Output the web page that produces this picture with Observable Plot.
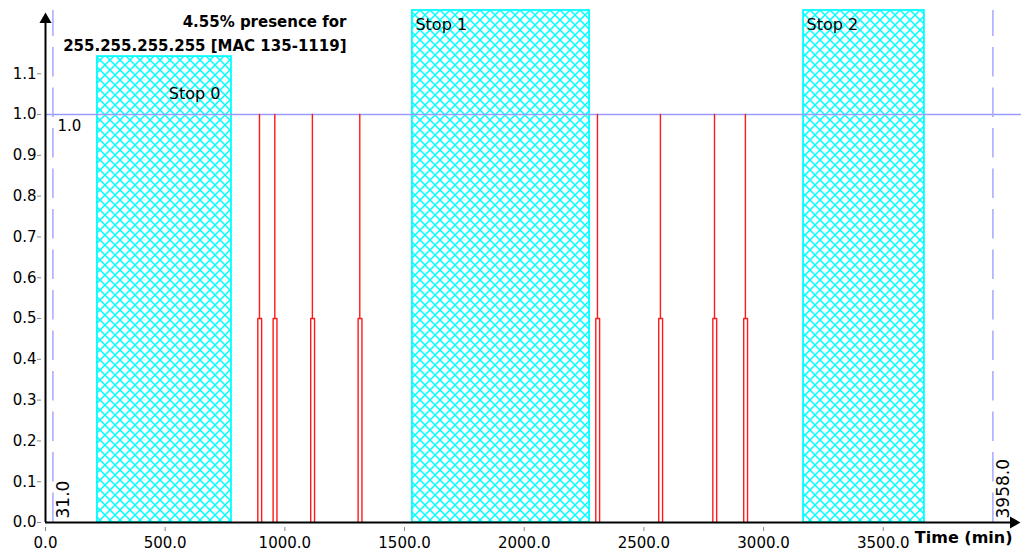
<!DOCTYPE html>
<html>
<head>
<meta charset="utf-8">
<script src="https://cdn.jsdelivr.net/npm/d3@7"></script>
<script src="https://cdn.jsdelivr.net/npm/@observablehq/plot@0.6"></script>
<style>
  html, body { margin: 0; padding: 0; background: #ffffff; }
  #chart { width: 1021px; height: 555px; }
</style>
</head>
<body>
<div id="chart"></div>
<script>
// Stops (minutes) drawn as hatched bands
const stopNames = ["Stop 0", "Stop 1", "Stop 2"];
const stopStart = [217, 1533, 3167];
const stopEnd   = [777, 2273, 3672];
const stopTop   = [1.142, 1.255, 1.255];

// Presence pulses (minutes): rise to 0.5, peak to 1.0, fall back
const spikeStart = [887, 951, 1108, 1306, 2299, 2562, 2788, 2917];
const spikePeak  = [894, 958, 1115, 1313, 2306, 2569, 2795, 2924];
const spikeEnd   = [903, 967, 1124, 1322, 2315, 2578, 2804, 2933];
const halfLevel = 0.5;
const fullLevel = 1.0;

// Observation window bounds (minutes)
const sessionBounds = [31.0, 3958.0];

const titleLines = ["4.55% presence for", "255.255.255.255 [MAC 135-1119]"];
const xLabel = "Time (min)";
const xTicks = [0, 500, 1000, 1500, 2000, 2500, 3000, 3500];
const yTicks = [0.0, 0.1, 0.2, 0.3, 0.4, 0.5, 0.6, 0.7, 0.8, 0.9, 1.0, 1.1];
const xMax = 4065;
const yMax = 1.255;

const stops = stopNames.map((name, i) => ({name, start: stopStart[i], end: stopEnd[i], top: stopTop[i]}));

const pulsePoints = spikePeak.flatMap((p, i) => {
  const s = spikeStart[i], e = spikeEnd[i];
  return [
    {t: s, v: 0, id: i}, {t: s, v: halfLevel, id: i},
    {t: p, v: halfLevel, id: i}, {t: p, v: fullLevel, id: i},
    {t: p, v: halfLevel, id: i}, {t: e, v: halfLevel, id: i},
    {t: e, v: 0, id: i}
  ];
});

const fmt1 = d => d.toFixed(1);

const svg = Plot.plot({
  width: 1021,
  height: 555,
  marginLeft: 45,
  marginRight: 3,
  marginTop: 10,
  marginBottom: 33,
  x: {domain: [0, xMax]},
  y: {domain: [0, yMax]},
  style: {fontFamily: "'DejaVu Sans', sans-serif", fontSize: "15px", color: "#000", background: "#fff"},
  marks: [
    // hatched stop bands
    Plot.rect(stops, {x1: "start", x2: "end", y1: 0, y2: "top", fill: "url(#hatch)", stroke: "#00ffff", strokeWidth: 1.8}),
    Plot.text(stops.filter(d => d.top >= yMax), {x: "start", y: "top", text: "name", textAnchor: "start", dx: 3, dy: 14, fontSize: 16, fill: "#000"}),
    Plot.text(stops.filter(d => d.top < yMax), {x: "end", y: "top", text: "name", textAnchor: "end", dx: -11, dy: 37, fontSize: 16, fill: "#000"}),

    // full presence reference
    Plot.ruleY([fullLevel], {stroke: "#9a9aff", strokeWidth: 1.4, insetRight: -3}),

    // window bounds
    Plot.ruleX(sessionBounds, {y1: 0, y2: yMax, stroke: "#a8a8ff", strokeWidth: 1.5, strokeDasharray: "29.5,11"}),
    Plot.text(sessionBounds, {x: d => d, y: 0, text: fmt1, rotate: -90, textAnchor: "start", dx: 11, dy: -4, fontSize: 17, fill: "#000"}),
    Plot.text([fullLevel], {x: sessionBounds[0], y: d => d, text: fmt1, textAnchor: "start", dx: 4.5, dy: 12, fontSize: 15, fill: "#000"}),

    // presence pulses
    Plot.line(pulsePoints, {x: "t", y: "v", z: "id", stroke: "#ff0000", strokeWidth: 1.4, strokeOpacity: 0.9}),

    // axes
    Plot.axisX({ticks: xTicks, tickFormat: fmt1, tickSize: 4, tickPadding: 6, dy: 5, stroke: "#888", label: null, fontSize: 15}),
    Plot.axisY({ticks: yTicks, tickFormat: fmt1, tickSize: 4, tickPadding: 1, dx: -4, stroke: "#888", label: null, fontSize: 15}),
    Plot.ruleY([0], {stroke: "#000", strokeWidth: 2, insetRight: 6}),
    Plot.ruleX([0], {stroke: "#000", strokeWidth: 2, insetTop: 6}),
    Plot.dot([0], {x: null, y: null, frameAnchor: "top-left", symbol: "triangle", r: 4.5, fill: "#000", stroke: null, dy: 9}),
    Plot.dot([0], {x: null, y: null, frameAnchor: "bottom-right", symbol: "triangle", r: 4.5, rotate: 90, fill: "#000", stroke: null, dx: -5}),

    // titles
    Plot.text([titleLines.join("\n")], {frameAnchor: "top-left", dx: 301, dy: 21, textAnchor: "end", lineAnchor: "middle", lineHeight: 1.6, fontWeight: "bold", fontSize: 15, fill: "#000"}),
    Plot.text([xLabel], {frameAnchor: "bottom-right", dx: -6, dy: 20.5, textAnchor: "end", fontWeight: "bold", fontSize: 16, fill: "#000"})
  ]
});

// cross-hatch pattern used by the stop bands
const defs = d3.select(svg).insert("defs", ":first-child");
const pat = defs.append("pattern")
  .attr("id", "hatch")
  .attr("patternUnits", "userSpaceOnUse")
  .attr("width", 10)
  .attr("height", 10);
pat.append("rect").attr("width", 10).attr("height", 10).attr("fill", "#ffffff");
pat.append("path")
  .attr("d", "M-1,-1L11,11M11,-1L-1,11")
  .attr("stroke", "#00ffff")
  .attr("stroke-width", 1.5)
  .attr("fill", "none");

document.getElementById("chart").appendChild(svg);
</script>
</body>
</html>
